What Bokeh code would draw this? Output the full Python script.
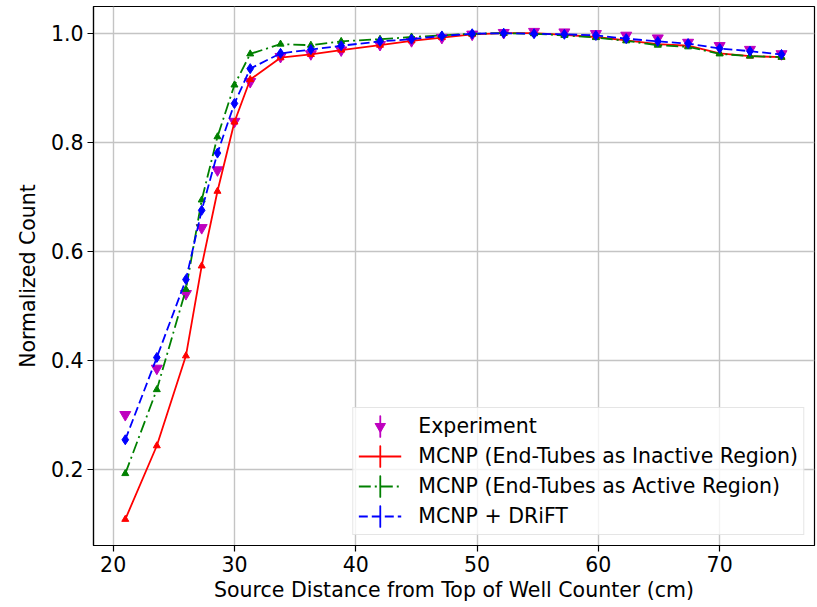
import numpy as np
from bokeh.plotting import figure
from bokeh.models import Range1d, FixedTicker, PrintfTickFormatter, Legend, LegendItem
from bokeh.embed import file_html
from bokeh.resources import INLINE

# ---- data ----
distance = [21.0, 23.6, 26.0, 27.3, 28.6, 30.0, 31.3, 33.8, 36.3, 38.8, 42.0, 44.6,
            47.1, 49.6, 52.2, 54.7, 57.2, 59.8, 62.3, 64.9, 67.4, 70.0, 72.5, 75.1]
experiment = [0.300, 0.385, 0.522, 0.643, 0.749, 0.838, 0.911, 0.957, 0.962, 0.969, 0.979, 0.986,
              0.992, 0.998, 1.001, 1.003, 1.002, 0.999, 0.996, 0.991, 0.983, 0.977, 0.970, 0.962]
mcnp_inactive = [0.108, 0.243, 0.408, 0.573, 0.710, 0.837, 0.915, 0.955, 0.961, 0.969, 0.978, 0.986,
                 0.992, 0.998, 1.000, 1.000, 0.997, 0.993, 0.987, 0.980, 0.977, 0.963, 0.958, 0.956]
mcnp_active = [0.192, 0.346, 0.530, 0.694, 0.810, 0.905, 0.962, 0.980, 0.978, 0.985, 0.989, 0.993,
               0.996, 0.999, 1.000, 0.999, 0.996, 0.992, 0.986, 0.978, 0.975, 0.962, 0.958, 0.956]
mcnp_drift = [0.254, 0.405, 0.548, 0.675, 0.780, 0.871, 0.935, 0.963, 0.970, 0.977, 0.985, 0.989,
              0.995, 0.999, 1.000, 0.999, 0.998, 0.996, 0.990, 0.985, 0.981, 0.972, 0.967, 0.961]
x_ticks = [20, 30, 40, 50, 60, 70]
y_ticks = [0.2, 0.4, 0.6, 0.8, 1.0]
labels = ["Experiment",
          "MCNP (End-Tubes as Inactive Region)",
          "MCNP (End-Tubes as Active Region)",
          "MCNP + DRiFT"]

FONT = "DejaVu Sans"
FS = "20.5px"
MAGENTA = "#bf00bf"
RED = "#ff0000"
GREEN = "#008000"
BLUE = "#0000ff"

p = figure(width=817, height=607,
           x_range=Range1d(18.38, 77.82), y_range=Range1d(0.060, 1.049),
           output_backend="svg", toolbar_location=None,
           min_border_left=93, min_border_right=3, min_border_top=6, min_border_bottom=62)

p.background_fill_color = "white"
p.border_fill_color = "white"
p.outline_line_color = "black"
p.outline_line_width = 1.2

p.xaxis.ticker = FixedTicker(ticks=x_ticks)
p.yaxis.ticker = FixedTicker(ticks=y_ticks)
p.xaxis.formatter = PrintfTickFormatter(format="%d")
p.yaxis.formatter = PrintfTickFormatter(format="%.1f")
p.xaxis.axis_label = "Source Distance from Top of Well Counter (cm)"
p.yaxis.axis_label = "Normalized Count"

for ax in (p.xaxis, p.yaxis):
    ax.axis_label_text_font = FONT
    ax.axis_label_text_font_size = FS
    ax.axis_label_text_font_style = "normal"
    ax.axis_label_text_color = "black"
    ax.major_label_text_font = FONT
    ax.major_label_text_font_size = FS
    ax.major_label_text_color = "black"
    ax.minor_tick_line_color = None
    ax.major_tick_in = 0
    ax.major_tick_out = 6
    ax.major_tick_line_color = "black"
    ax.major_tick_line_width = 1.2
    ax.axis_line_color = "black"
    ax.axis_line_width = 1.2
    ax.major_label_standoff = 4
p.xaxis.axis_label_standoff = 3
p.yaxis.axis_label_standoff = 8

p.grid.grid_line_color = "#c4c4c4"
p.grid.grid_line_width = 1.4

# ---- data renderers ----
exp_pts = p.scatter(distance, experiment, marker="inverted_triangle", size=11,
                    fill_color=MAGENTA, line_color=MAGENTA)

red_line = p.line(distance, mcnp_inactive, line_color=RED, line_width=1.8)
red_pts = p.scatter(distance, mcnp_inactive, marker="triangle", size=7,
                    fill_color=RED, line_color=RED)

green_line = p.line(distance, mcnp_active, line_color=GREEN, line_width=1.8, line_dash="12 4 2 4")
green_pts = p.scatter(distance, mcnp_active, marker="triangle", size=7,
                      fill_color=GREEN, line_color=GREEN)

blue_line = p.line(distance, mcnp_drift, line_color=BLUE, line_width=1.8, line_dash="9 4")
blue_pts = p.scatter(distance, mcnp_drift, marker="diamond", size=10,
                     fill_color=BLUE, line_color=BLUE)

# legend-only error-bar symbols: a very thin ellipse at a NaN position
# (nothing is drawn in the plot area; the legend shows a vertical bar)
nan_pos = np.array([np.nan])


def err_symbol(color):
    return p.ellipse(x=nan_pos, y=nan_pos, width=0.01, height=22,
                     width_units="screen", height_units="screen",
                     fill_color=None, line_color=color, line_width=1.8)


exp_bar = err_symbol(MAGENTA)
red_bar = err_symbol(RED)
green_bar = err_symbol(GREEN)
blue_bar = err_symbol(BLUE)

legend = Legend(items=[
    LegendItem(label=labels[0], renderers=[exp_bar, exp_pts]),
    LegendItem(label=labels[1], renderers=[red_line, red_bar]),
    LegendItem(label=labels[2], renderers=[green_line, green_bar]),
    LegendItem(label=labels[3], renderers=[blue_line, blue_bar]),
], location="bottom_right")
legend.glyph_width = 43
legend.glyph_height = 26
legend.label_height = 26
legend.spacing = 4
legend.padding = 5
legend.label_standoff = 17
legend.margin = 10
legend.label_text_font = FONT
legend.label_text_font_size = FS
legend.label_text_color = "black"
legend.border_line_color = "#cccccc"
legend.border_line_width = 1.2
legend.background_fill_color = "white"
legend.background_fill_alpha = 0.8
p.add_layout(legend)

open("out.html", "w").write(file_html(p, INLINE))
